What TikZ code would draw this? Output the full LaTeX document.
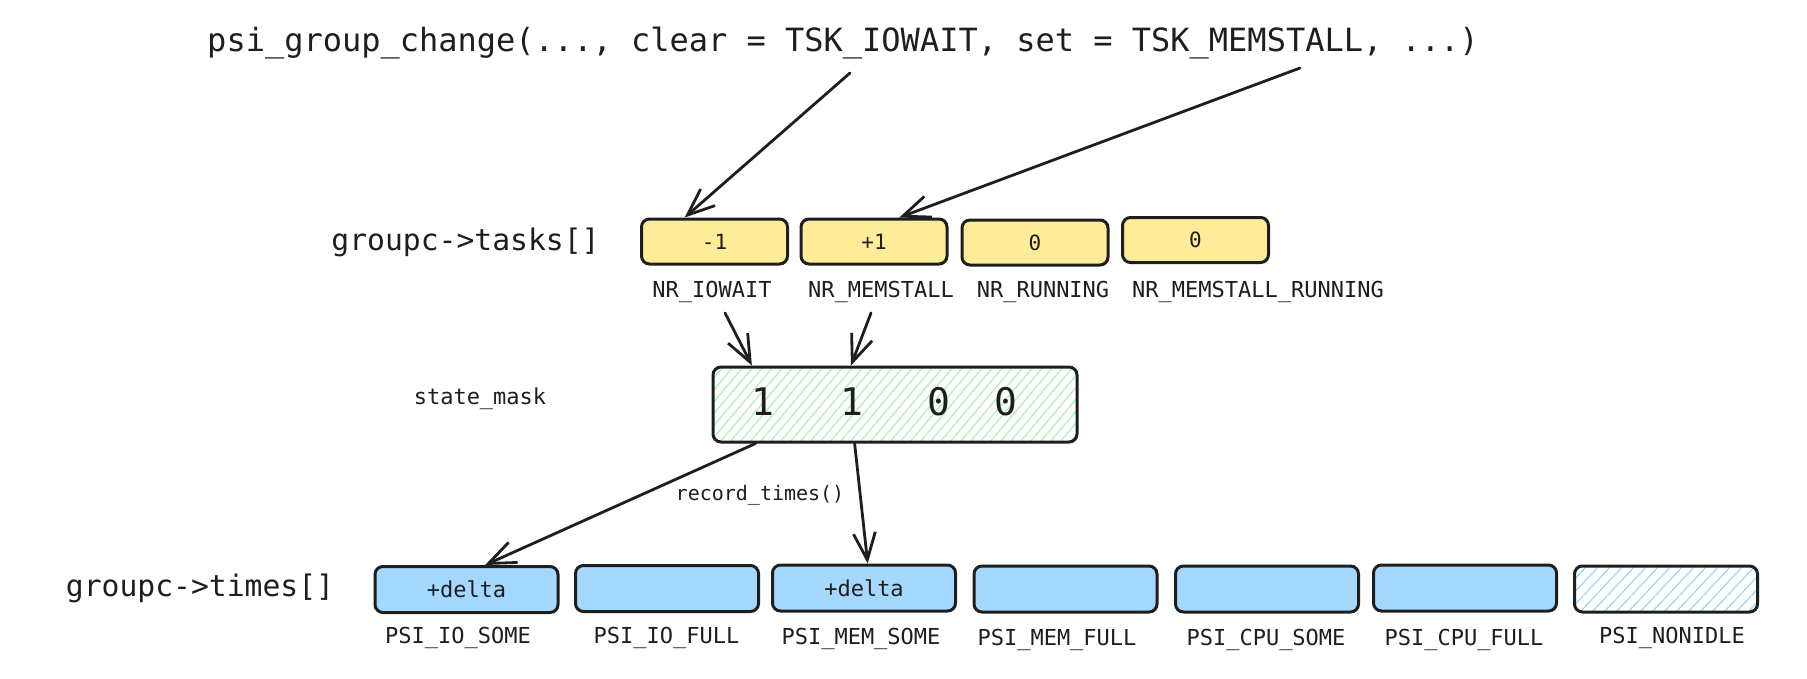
\documentclass[tikz,border=0pt]{standalone}
\usepackage{fontspec}
\setmonofont{DejaVu Sans Mono}
\usetikzlibrary{arrows.meta,calc}
\definecolor{ink}{HTML}{1E1E1E}
\definecolor{yel}{HTML}{FFEC99}
\definecolor{blu}{HTML}{A5D8FF}
\definecolor{grn}{HTML}{B2F2BB}
\newcommand{\fsz}[1]{\fontsize{#1}{#1}\selectfont\ttfamily}
\begin{document}
\begin{tikzpicture}[x=1pt,y=-1pt,
  box/.style={draw=ink, line width=3pt, rounded corners=8pt, inner sep=0pt, text=ink},
  ybox/.style={box, fill=yel, minimum width=146pt, minimum height=45pt, font=\fsz{21}},
  bbox/.style={box, fill=blu, minimum width=183pt, minimum height=46pt, font=\fsz{22}},
  hbox/.style={box, minimum width=183pt, minimum height=46pt},
  lbl/.style={inner sep=0pt, text=ink, font=\fsz{22}},
  arr/.style={draw=ink, line width=2.8pt, line cap=round, -{Straight Barb[length=27pt,width=22pt,line width=2.8pt]}},
]
\fill[white] (0,0) rectangle (1807,678);
\useasboundingbox (0,0) rectangle (1807,678);

% title
\node[inner sep=0pt, text=ink, font=\fsz{32}] (call) at (843,43)
  {psi\_group\_change(..., clear = TSK\_IOWAIT, set = TSK\_MEMSTALL, ...)};

% tasks row
\node[inner sep=0pt, text=ink, font=\fsz{29.7}] (tasks) at (465.5,242) {groupc->tasks[]};
\node[ybox] (t1) at (714.5,241.5) {-1};
\node[ybox] (t2) at (874,241.5) {+1};
\node[ybox] (t3) at (1035,242.5) {0};
\node[ybox] (t4) at (1195.5,240) {0};
\node[lbl] (l1) at (712,292) {NR\_IOWAIT};
\node[lbl] (l2) at (881,292) {NR\_MEMSTALL};
\node[lbl] (l3) at (1043,292) {NR\_RUNNING};
\node[lbl] (l4) at (1258,292) {NR\_MEMSTALL\_RUNNING};

% state mask
\node[lbl] (sm) at (480,399) {state\_mask};
\begin{scope}
  \clip[rounded corners=8pt] (713,367) rectangle (1077,442);
  \foreach \i in {640,650,...,1080} \draw[grn, line width=1.3pt] (\i,442) -- ++(64,-76);
\end{scope}
\node[box, minimum width=364pt, minimum height=75pt] (mask) at (895,404.5) {};
\node[inner sep=0pt, text=ink, font=\fsz{38}] (d1) at (763,402) {1};
\node[inner sep=0pt, text=ink, font=\fsz{38}] (d2) at (851.5,402) {1};
\node[inner sep=0pt, text=ink, font=\fsz{38}] (d3) at (939,402) {0};
\node[inner sep=0pt, text=ink, font=\fsz{38}] (d4) at (1006,402) {0};

% times row
\node[inner sep=0pt, text=ink, font=\fsz{29.7}] (times) at (200,588) {groupc->times[]};
\node[bbox] (b1) at (466.5,589.5) {+delta};
\node[bbox] (b2) at (667,588.5) {};
\node[bbox] (b3) at (864,588) {+delta};
\node[bbox] (b4) at (1065.5,589) {};
\node[bbox] (b5) at (1267,589) {};
\node[bbox] (b6) at (1465,588) {};
\begin{scope}
  \clip[rounded corners=8pt] (1575,566) rectangle (1757,612);
  \foreach \i in {1520,1532,...,1760} \draw[blu, line width=1.3pt] (\i,612) -- ++(44,-47);
\end{scope}
\node[hbox] (b7) at (1666,589) {};
\node[lbl] (p1) at (458,638) {PSI\_IO\_SOME};
\node[lbl] (p2) at (666.5,638) {PSI\_IO\_FULL};
\node[lbl] (p3) at (861,639) {PSI\_MEM\_SOME};
\node[lbl] (p4) at (1057,640) {PSI\_MEM\_FULL};
\node[lbl] (p5) at (1266,640) {PSI\_CPU\_SOME};
\node[lbl] (p6) at (1464,640) {PSI\_CPU\_FULL};
\node[lbl] (p7) at (1672,638) {PSI\_NONIDLE};

\node[inner sep=0pt, text=ink, font=\fsz{20}] (rt) at (760,495) {record\_times()};

% connectors
\coordinate (s1) at (850,73);
\coordinate (s2) at (1300,68);
\draw[arr] (s1) -- ($(t1.north west)!0.3!(t1.north east)$);
\draw[arr] (s2) -- ($(t2.north west)!0.67!(t2.north east)$);
\draw[arr] ([xshift=13pt,yshift=-10pt]l1.south) -- ($(mask.north west)!0.11!(mask.north east)$);
\draw[arr] ([xshift=-10pt,yshift=-10pt]l2.south) -- ($(mask.north west)!0.38!(mask.north east)$);
\draw[arr] ($(mask.south west)!0.12!(mask.south east)$) -- ($(b1.north west)!0.6!(b1.north east)$);
\draw[arr] ($(mask.south west)!0.39!(mask.south east)$) -- ($(b3.north west)!0.52!(b3.north east)$);
\end{tikzpicture}
\end{document}
